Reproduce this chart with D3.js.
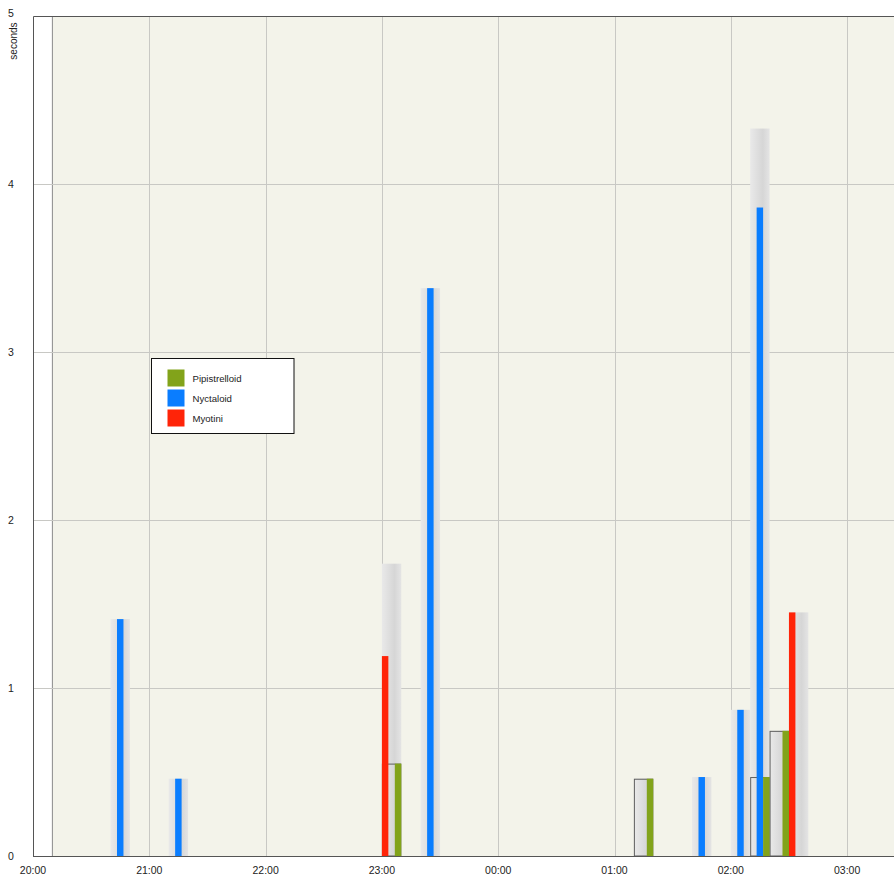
<!DOCTYPE html>
<html>
<head>
<meta charset="utf-8">
<script src="https://cdn.jsdelivr.net/npm/d3@7"></script>
<style>
  body { margin: 0; background: #fff; }
  text { font-family: "Liberation Sans", Arial, Helvetica, sans-serif; fill: #222; }
</style>
</head>
<body>
<div id="chart"></div>
<script>
// 10-minute bins (start time) and seconds of calls per group
var binStarts = ["20:40", "21:10", "23:00", "23:20", "01:10", "01:40", "02:00", "02:10", "02:20", "02:30"];
var pipistrelloid = [0, 0, 0.55, 0, 0.46, 0, 0, 0.47, 0.745, 0];
var nyctaloid = [1.41, 0.46, 0, 3.38, 0, 0.47, 0.87, 3.86, 0, 0];
var myotini = [0, 0, 1.19, 0, 0, 0, 0, 0, 0, 1.45];

var groupNames = ["Myotini", "Nyctaloid", "Pipistrelloid"];
var legendNames = ["Pipistrelloid", "Nyctaloid", "Myotini"];
var groupColors = { Pipistrelloid: "#82a31a", Nyctaloid: "#0a7dff", Myotini: "#ff2408" };
var yTicks = [0, 1, 2, 3, 4, 5];

var chartWidth = 894, chartHeight = 878;
var plotLeft = 33, plotTop = 16, plotBottom = 856;
var hourPx = 116.3;

// turn "HH:MM" into a date, times before noon are the next day
function toDate(s) {
	var p = s.split(":");
	var h = +p[0], m = +p[1];
	return new Date(2020, 5, h < 12 ? 2 : 1, h, m);
}

var t0 = toDate("20:00"), t1 = toDate("04:00");
var x = d3.scaleTime().domain([t0, t1]).range([plotLeft, plotLeft + 8 * hourPx]);
var y = d3.scaleLinear().domain([0, 5]).range([plotBottom, plotTop]);

var data = binStarts.map(function(b, i) {
	var start = toDate(b);
	return {
		start: start,
		end: d3.timeMinute.offset(start, 10),
		Pipistrelloid: pipistrelloid[i],
		Nyctaloid: nyctaloid[i],
		Myotini: myotini[i],
		total: pipistrelloid[i] + nyctaloid[i] + myotini[i]
	};
});

var svg = d3.select("#chart").append("svg")
	.attr("width", chartWidth)
	.attr("height", chartHeight);

var defs = svg.append("defs");
var grad = defs.append("linearGradient").attr("id", "greyBar")
	.attr("x1", "0%").attr("x2", "100%").attr("y1", "0%").attr("y2", "0%");
grad.append("stop").attr("offset", "0%").attr("stop-color", "#e9e9e9");
grad.append("stop").attr("offset", "65%").attr("stop-color", "#d6d6d6");
grad.append("stop").attr("offset", "100%").attr("stop-color", "#e4e4e4");

// night background starts at 20:10
var nightStart = toDate("20:10");
svg.append("rect")
	.attr("x", x(nightStart))
	.attr("y", plotTop)
	.attr("width", chartWidth - x(nightStart))
	.attr("height", plotBottom - plotTop)
	.style("fill", "#f3f3ea");
svg.append("line")
	.attr("x1", x(nightStart)).attr("x2", x(nightStart))
	.attr("y1", plotTop).attr("y2", plotBottom)
	.style("stroke", "#8a8a8a").style("stroke-width", 1);

// grid lines
var hours = x.ticks(d3.timeHour.every(1)).filter(function(d) { return d > t0 && x(d) < chartWidth; });
svg.append("g").selectAll("line")
	.data(hours)
	.enter().append("line")
	.attr("x1", function(d) { return Math.round(x(d)) + 0.5; })
	.attr("x2", function(d) { return Math.round(x(d)) + 0.5; })
	.attr("y1", plotTop).attr("y2", plotBottom)
	.style("stroke", "#c8c8c4").style("stroke-width", 1);

svg.append("g").selectAll("line")
	.data(yTicks.filter(function(d) { return d > 0 && d < 5; }))
	.enter().append("line")
	.attr("x1", plotLeft).attr("x2", chartWidth)
	.attr("y1", function(d) { return Math.round(y(d)) + 0.5; })
	.attr("y2", function(d) { return Math.round(y(d)) + 0.5; })
	.style("stroke", "#c8c8c4").style("stroke-width", 1);

// grey total bars
var bins = svg.append("g");
bins.selectAll(".total")
	.data(data)
	.enter().append("rect")
	.attr("class", "total")
	.attr("x", function(d) { return x(d.start); })
	.attr("y", function(d) { return y(d.total); })
	.attr("width", function(d) { return x(d.end) - x(d.start); })
	.attr("height", function(d) { return y(0) - y(d.total); })
	.style("fill", "url(#greyBar)");

// outlined box for Pipistrelloid bins
bins.selectAll(".pbox")
	.data(data.filter(function(d) { return d.Pipistrelloid > 0; }))
	.enter().append("rect")
	.attr("class", "pbox")
	.attr("x", function(d) { return x(d.start) + 0.5; })
	.attr("y", function(d) { return y(d.Pipistrelloid) + 0.5; })
	.attr("width", function(d) { return x(d.end) - x(d.start) - 1; })
	.attr("height", function(d) { return y(0) - y(d.Pipistrelloid) - 0.5; })
	.style("fill", "url(#greyBar)")
	.style("stroke", "#5e5e5e")
	.style("stroke-width", 1);

// coloured bars, one third of the bin each
groupNames.forEach(function(g) {
	bins.selectAll(".bar-" + g)
		.data(data.filter(function(d) { return d[g] > 0; }))
		.enter().append("rect")
		.attr("class", "bar-" + g)
		.attr("x", function(d) {
			var sub = d3.scaleBand().domain(groupNames).range([x(d.start), x(d.end)]);
			return sub(g);
		})
		.attr("y", function(d) { return y(d[g]); })
		.attr("width", function(d) { return (x(d.end) - x(d.start)) / 3; })
		.attr("height", function(d) { return y(0) - y(d[g]); })
		.style("fill", groupColors[g]);
});

// frame
svg.append("path")
	.attr("d", "M" + chartWidth + "," + (plotTop + 0.5) + "H" + (plotLeft + 0.5) + "V" + plotBottom)
	.style("fill", "none").style("stroke", "#555").style("stroke-width", 1);
svg.append("line")
	.attr("x1", plotLeft).attr("x2", chartWidth)
	.attr("y1", plotBottom + 0.5).attr("y2", plotBottom + 0.5)
	.style("stroke", "#555").style("stroke-width", 1.2);

// x labels
svg.append("g").selectAll("text")
	.data(x.ticks(d3.timeHour.every(1)).filter(function(d) { return x(d) < chartWidth - 20; }))
	.enter().append("text")
	.attr("x", function(d) { return x(d); })
	.attr("y", 874)
	.attr("text-anchor", "middle")
	.style("font-size", "10.5px")
	.text(d3.timeFormat("%H:%M"));

// y labels
svg.append("g").selectAll("text")
	.data(yTicks)
	.enter().append("text")
	.attr("x", 11)
	.attr("y", function(d) { return d == 5 ? y(d) + 1 : y(d) + 4; })
	.attr("text-anchor", "middle")
	.style("font-size", "10.5px")
	.text(function(d) { return d; });

svg.append("text")
	.attr("transform", "translate(17,41) rotate(-90)")
	.attr("text-anchor", "middle")
	.style("font-size", "10px")
	.text("seconds");

// legend
var legend = svg.append("g").attr("transform", "translate(151.5,358.5)");
legend.append("rect")
	.attr("width", 142.5).attr("height", 75)
	.style("fill", "#fff").style("stroke", "#111").style("stroke-width", 1);
var item = legend.selectAll(".item")
	.data(legendNames)
	.enter().append("g")
	.attr("class", "item")
	.attr("transform", function(d, i) { return "translate(16," + (11 + i * 20) + ")"; });
item.append("rect")
	.attr("width", 17).attr("height", 17)
	.style("fill", function(d) { return groupColors[d]; });
item.append("text")
	.attr("x", 25).attr("y", 12.5)
	.style("font-size", "9.6px")
	.text(function(d) { return d; });
</script>
</body>
</html>
